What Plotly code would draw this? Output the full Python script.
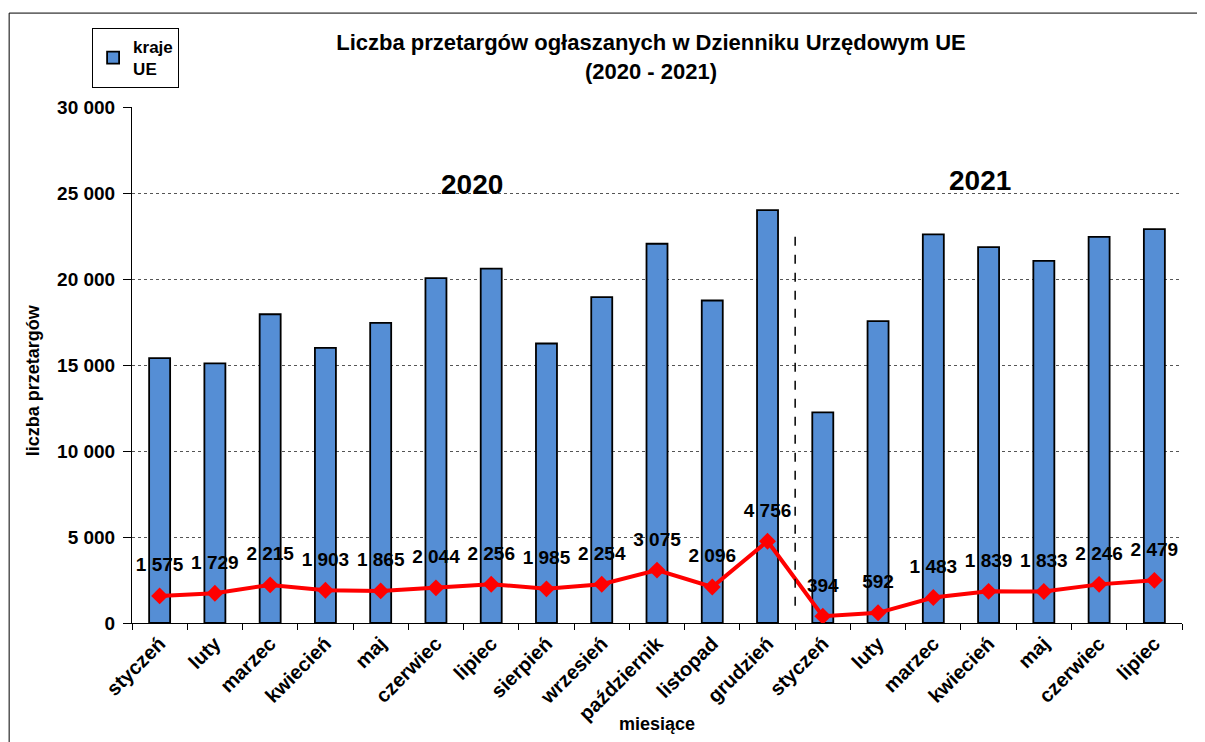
import plotly.graph_objects as go

months = ["styczeń", "luty", "marzec", "kwiecień", "maj", "czerwiec", "lipiec",
          "sierpień", "wrzesień", "październik", "listopad", "grudzień",
          "styczeń", "luty", "marzec", "kwiecień", "maj", "czerwiec", "lipiec"]
kraje_ue = [15400, 15100, 17950, 16000, 17450, 20050, 20600, 16250, 18950, 22050,
            18750, 24000, 12250, 17550, 22600, 21850, 21050, 22450, 22900]
line_vals = [1575, 1729, 2215, 1903, 1865, 2044, 2256, 1985, 2254, 3075, 2096, 4756,
             394, 592, 1483, 1839, 1833, 2246, 2479]
y_ticks = [0, 5000, 10000, 15000, 20000, 25000, 30000]
y_ticklabels = ["0", "5 000", "10 000", "15 000", "20 000", "25 000", "30 000"]

def fmt(v):
    return f"{v:,}".replace(",", " ")

xs = list(range(len(months)))
FONT = "Liberation Sans, Arial, sans-serif"

fig = go.Figure()
fig.add_trace(go.Bar(
    x=xs, y=kraje_ue, name="kraje<br>UE", width=0.38,
    marker=dict(color="#558ed5", line=dict(color="black", width=1.8)),
))
fig.add_trace(go.Scatter(
    x=xs, y=line_vals, mode="lines+markers", showlegend=False,
    line=dict(color="#ff0000", width=4),
    marker=dict(symbol="diamond", size=13, color="#ff0000"),
))
# data labels, offset above the points by a transparent larger marker
fig.add_trace(go.Scatter(
    x=xs, y=line_vals, mode="markers+text", showlegend=False, hoverinfo="skip",
    marker=dict(size=30, opacity=0),
    text=[fmt(v) for v in line_vals], textposition="top center",
    textfont=dict(family=FONT, size=19, color="black", weight="bold"),
))
# invisible trace to activate overlay axis with ticks at category boundaries
fig.add_trace(go.Scatter(x=[-0.5, len(months) - 0.5], y=[0, 0], xaxis="x2",
                         mode="markers", marker=dict(opacity=0), showlegend=False,
                         hoverinfo="skip"))

W, H = 1197, 734
fig.update_layout(
    width=W, height=H,
    margin=dict(l=124, r=23, t=99, b=119),
    paper_bgcolor="white", plot_bgcolor="white",
    font=dict(family=FONT, color="black"),
    title=dict(text="Liczba przetargów ogłaszanych w Dzienniku Urzędowym UE<br>(2020 - 2021)",
               x=(651 - 8) / W, xref="container", xanchor="center",
               y=1 - (50 - 8) / H, yref="container", yanchor="middle",
               font=dict(family=FONT, size=22, color="black", weight="bold")),
    xaxis=dict(range=[-0.5, len(months) - 0.5], tickvals=xs, ticktext=months,
               tickangle=-45, ticks="", showgrid=False, zeroline=False, automargin=False,
               showline=True, linecolor="black", linewidth=1,
               tickfont=dict(family=FONT, size=20, color="black", weight="bold")),
    xaxis2=dict(overlaying="x", anchor="y", side="bottom", automargin=False,
                range=[-0.5, len(months) - 0.5],
                tickvals=[i - 0.5 for i in range(len(months) + 1)],
                ticks="outside", ticklen=6, tickcolor="black", showticklabels=False,
                showgrid=False, zeroline=False),
    yaxis=dict(range=[0, 30000], tickvals=y_ticks, ticktext=y_ticklabels,
               ticks="outside", ticklen=8, tickcolor="black", automargin=False,
               ticklabelstandoff=4,
               showgrid=True, gridcolor="#555555", griddash="dot", gridwidth=1,
               zeroline=False, showline=True, linecolor="black", linewidth=1,
               tickfont=dict(family=FONT, size=19, color="black", weight="bold")),
    legend=dict(x=-0.038, y=1.153, xanchor="left", yanchor="top",
                bordercolor="black", borderwidth=1, bgcolor="white",
                font=dict(family=FONT, size=17, color="black", weight="bold")),
)

fig.add_annotation(text="2020", x=5.65, y=25500, xref="x", yref="y", showarrow=False,
                   font=dict(family=FONT, size=28, color="black", weight="bold"))
fig.add_annotation(text="2021", x=14.85, y=25700, xref="x", yref="y", showarrow=False,
                   font=dict(family=FONT, size=28, color="black", weight="bold"))
fig.add_annotation(text="liczba przetargów", x=-0.094, y=0.471, xref="paper", yref="paper",
                   xanchor="center", yanchor="middle",
                   textangle=-90, showarrow=False,
                   font=dict(family=FONT, size=18, color="black", weight="bold"))
fig.add_annotation(text="miesiące", x=0.5, y=-0.196, xref="paper", yref="paper",
                   xanchor="center", yanchor="middle",
                   showarrow=False,
                   font=dict(family=FONT, size=18, color="black", weight="bold"))

fig.add_shape(type="line", x0=11.5, x1=11.5, y0=1000, y1=22500, xref="x", yref="y",
              line=dict(color="black", width=1.5, dash="dash"))
fig.add_shape(type="rect", x0=-0.117, x1=1.05, y0=-0.3, y1=1.182, xref="paper", yref="paper",
              line=dict(color="black", width=1), layer="below")

fig.write_html("out.html")
